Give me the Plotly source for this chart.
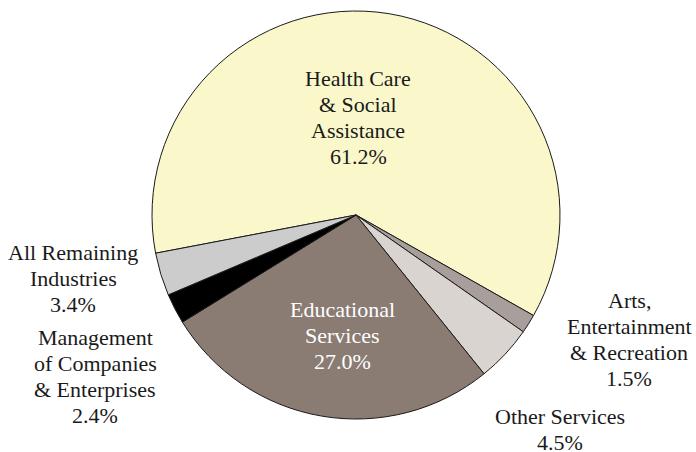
import plotly.graph_objects as go

# Industry shares (percent), listed clockwise starting from the left side of the pie
industries = [
    "Health Care<br>& Social<br>Assistance",
    "Arts,<br>Entertainment<br>& Recreation",
    "Other Services",
    "Educational<br>Services",
    "Management<br>of Companies<br>& Enterprises",
    "All Remaining<br>Industries",
]
shares = [61.2, 1.5, 4.5, 27.0, 2.4, 3.4]
colors = ["#FAF8CB", "#A89F9C", "#DAD4D1", "#8A7B73", "#000000", "#CCCCCC"]

W, H = 696, 452
CX, CY, R = 356, 215, 204

fig = go.Figure(
    go.Pie(
        labels=[s.replace("<br>", " ") for s in industries],
        values=shares,
        sort=False,
        direction="clockwise",
        rotation=259.2,
        marker=dict(colors=colors, line=dict(color="#1a1a1a", width=1)),
        textinfo="none",
        hoverinfo="label+percent",
        showlegend=False,
        domain=dict(
            x=[(CX - R) / W, (CX + R) / W],
            y=[1 - (CY + R) / H, 1 - (CY - R) / H],
        ),
    )
)

# Label blocks: (x center, y center of first line) in pixels, text colour
label_pos = [
    (358, 78.5, "#1a1a1a"),
    (629, 300.5, "#1a1a1a"),
    (560, 416.5, "#1a1a1a"),
    (342, 309.5, "#FFFFFF"),
    (95, 337.5, "#1a1a1a"),
    (73, 252.5, "#1a1a1a"),
]
LINE_GAP = 26
FONT_FAMILY = "Times"
FONT_SIZE = 22

for name, val, (px, py, col) in zip(industries, shares, label_pos):
    lines = name.split("<br>") + [f"{val:.1f}%"]
    for i, line in enumerate(lines):
        fig.add_annotation(
            text=line,
            x=px / W,
            y=1 - (py + i * LINE_GAP) / H,
            xref="paper",
            yref="paper",
            xanchor="center",
            yanchor="middle",
            showarrow=False,
            font=dict(family=FONT_FAMILY, size=FONT_SIZE, color=col),
        )

fig.update_layout(
    width=W,
    height=H,
    margin=dict(l=0, r=0, t=0, b=0),
    paper_bgcolor="white",
    plot_bgcolor="white",
)

fig.write_html("out.html")
